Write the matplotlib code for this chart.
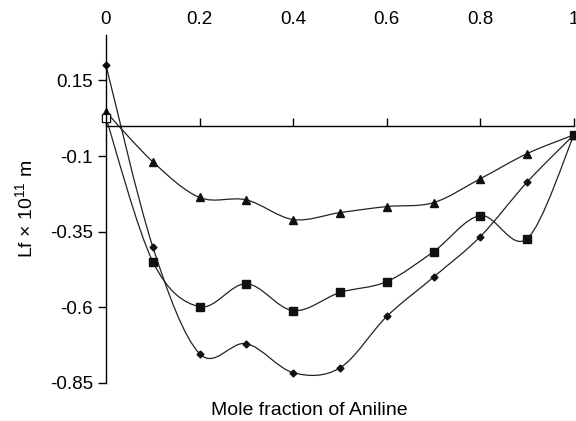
import numpy as np
import matplotlib.pyplot as plt
from matplotlib.path import Path
from matplotlib.patches import PathPatch

plt.rcParams['font.family'] = 'Liberation Sans'
plt.rcParams['mathtext.fontset'] = 'custom'
plt.rcParams['mathtext.rm'] = 'Liberation Sans'
plt.rcParams['mathtext.it'] = 'Liberation Sans:italic'

x = [0, 0.1, 0.2, 0.3, 0.4, 0.5, 0.6, 0.7, 0.8, 0.9, 1.0]
tri = [0.046, -0.119, -0.237, -0.245, -0.31, -0.287, -0.267, -0.254, -0.175, -0.092, -0.03]
sq = [0.026, -0.449, -0.598, -0.522, -0.611, -0.551, -0.515, -0.416, -0.297, -0.373, -0.03]
dia = [0.20, -0.40, -0.753, -0.72, -0.816, -0.80, -0.63, -0.50, -0.366, -0.186, -0.03]

xticks = [0, 0.2, 0.4, 0.6, 0.8, 1]
xticklabels = ['0', '0.2', '0.4', '0.6', '0.8', '1']
yticks = [0.15, -0.1, -0.35, -0.6, -0.85]
yticklabels = ['0.15', '-0.1', '-0.35', '-0.6', '-0.85']


def smooth_path(xs, ys):
    # smoothed line like a spreadsheet chart (cubic bezier through points)
    p = np.column_stack([xs, ys])
    ext = np.vstack([p[0], p, p[-1]])
    verts = [p[0]]
    codes = [Path.MOVETO]
    for i in range(len(p) - 1):
        p0, p1, p2, p3 = ext[i], ext[i + 1], ext[i + 2], ext[i + 3]
        verts += [p1 + (p2 - p0) / 6, p2 - (p3 - p1) / 6, p2]
        codes += [Path.CURVE4] * 3
    return Path(verts, codes)


fig = plt.figure(figsize=(5.76, 4.21), dpi=100)
ax = fig.add_axes([0.184, 0.0903, 0.8125, 0.8267])

for ys, mk, ms in [(tri, '^', 6), (sq, 's', 5.5), (dia, 'D', 3.5)]:
    ax.add_patch(PathPatch(smooth_path(x, ys), fill=False, lw=0.9, color='#222222'))
    ax.plot(x, ys, ls='none', marker=mk, ms=ms, color='#111111', clip_on=False)
ax.plot(x[:1], sq[:1], ls='none', marker='s', ms=5.5, mfc='white', mec='#111111',
        mew=0.8, clip_on=False)

ax.set_xlim(0, 1)
ax.set_ylim(-0.85, 0.30)
ax.spines['top'].set_visible(False)
ax.spines['right'].set_visible(False)
ax.spines['bottom'].set_position(('data', 0))
ax.spines['left'].set_linewidth(1.0)
ax.spines['bottom'].set_linewidth(1.0)

ax.set_xticks(xticks)
ax.set_xticklabels(xticklabels)
ax.set_yticks(yticks)
ax.set_yticklabels(yticklabels)
ax.tick_params(axis='x', direction='in', length=6, width=1, top=False, bottom=True,
               labeltop=True, labelbottom=False, pad=5, labelsize=13.5)
ax.tick_params(axis='y', direction='out', length=6, width=1, labelsize=13.5)

ax.set_ylabel(r'Lf $\times$ 10$^{11}$ m', fontsize=14, labelpad=10)
fig.text(0.537, 0.024, 'Mole fraction of Aniline', ha='center',
         va='center', fontsize=14)

fig.savefig('out.png', dpi=100)
